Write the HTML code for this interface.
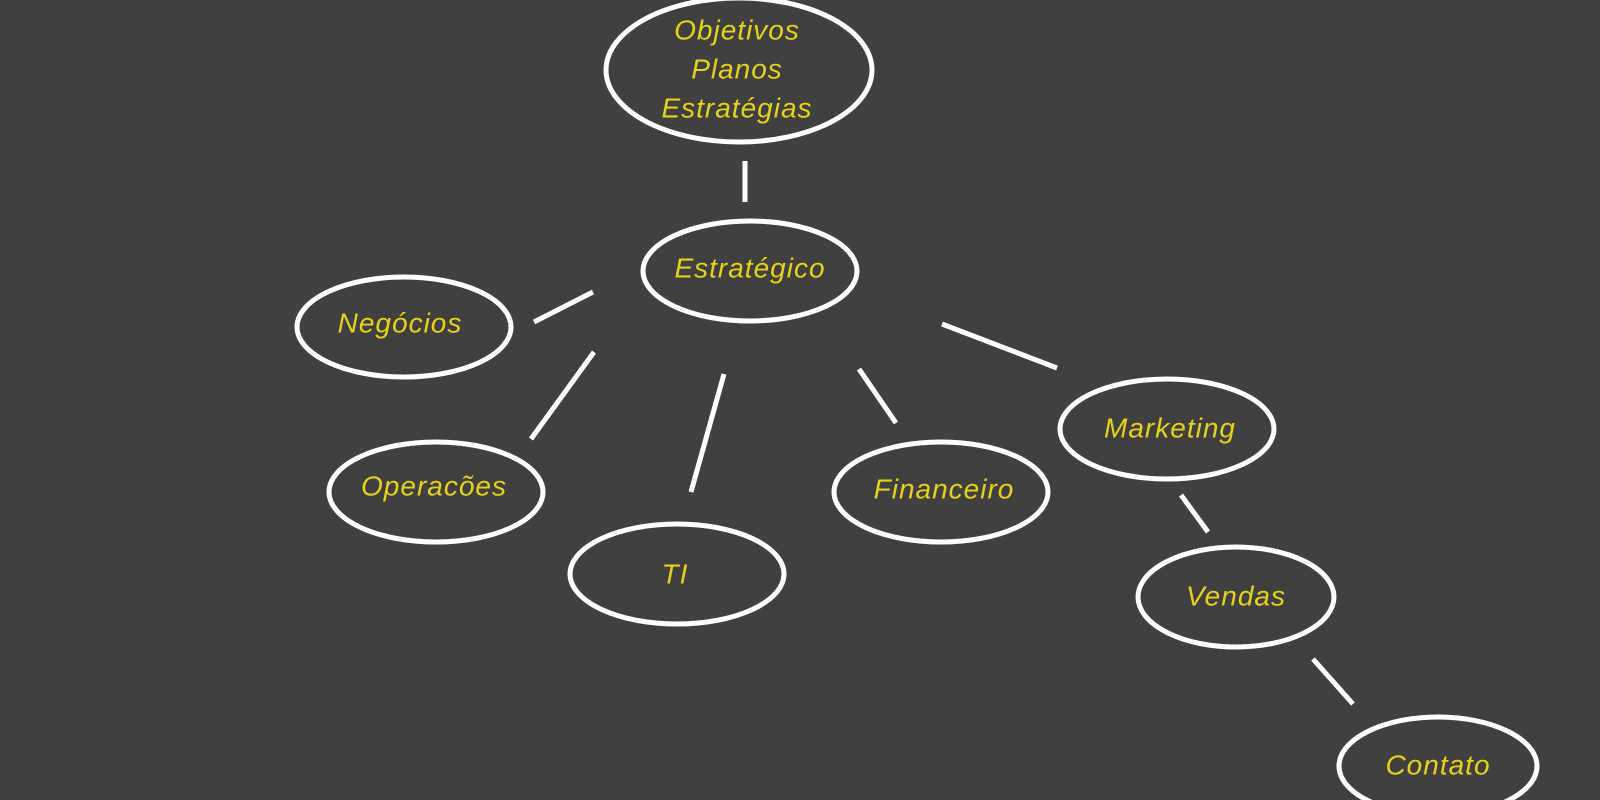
<!DOCTYPE html>
<html><head><meta charset="utf-8"><style>
html,body{margin:0;padding:0;background:#404040;}
svg{display:block}
text{font-family:"Liberation Sans",sans-serif;font-style:italic;fill:#e6d21a;font-size:28px;letter-spacing:1px;text-anchor:middle;dominant-baseline:middle}
</style></head><body>
<svg width="1600" height="800" viewBox="0 0 1600 800">
<rect width="1600" height="800" fill="#404040"/>
<g fill="none" stroke="#fff" stroke-width="5">
<ellipse cx="739" cy="70" rx="133" ry="72"/>
<ellipse cx="750" cy="271" rx="107" ry="50"/>
<ellipse cx="404" cy="327" rx="107" ry="50"/>
<ellipse cx="436" cy="492" rx="107" ry="50"/>
<ellipse cx="677" cy="574" rx="107" ry="50"/>
<ellipse cx="941" cy="492" rx="107" ry="50"/>
<ellipse cx="1167" cy="429" rx="107" ry="50"/>
<ellipse cx="1236" cy="597" rx="98" ry="50"/>
<ellipse cx="1438" cy="766" rx="99" ry="49"/>
<line x1="745" y1="161" x2="745" y2="202"/>
<line x1="534" y1="322" x2="593" y2="292"/>
<line x1="594" y1="352" x2="531" y2="439"/>
<line x1="724" y1="374" x2="691" y2="492"/>
<line x1="859" y1="369" x2="896" y2="423"/>
<line x1="942" y1="324" x2="1057" y2="368"/>
<line x1="1181" y1="495" x2="1208" y2="532"/>
<line x1="1313" y1="659" x2="1353" y2="704"/>
</g>
<text x="737" y="32">Objetivos</text>
<text x="737" y="71">Planos</text>
<text x="737" y="110">Estratégias</text>
<text x="750" y="270">Estratégico</text>
<text x="400" y="325">Negócios</text>
<text x="434" y="488">Operacões</text>
<text x="675" y="576">TI</text>
<text x="944" y="491">Financeiro</text>
<text x="1170" y="430">Marketing</text>
<text x="1236" y="598">Vendas</text>
<text x="1438" y="767">Contato</text>
</svg>
</body></html>
